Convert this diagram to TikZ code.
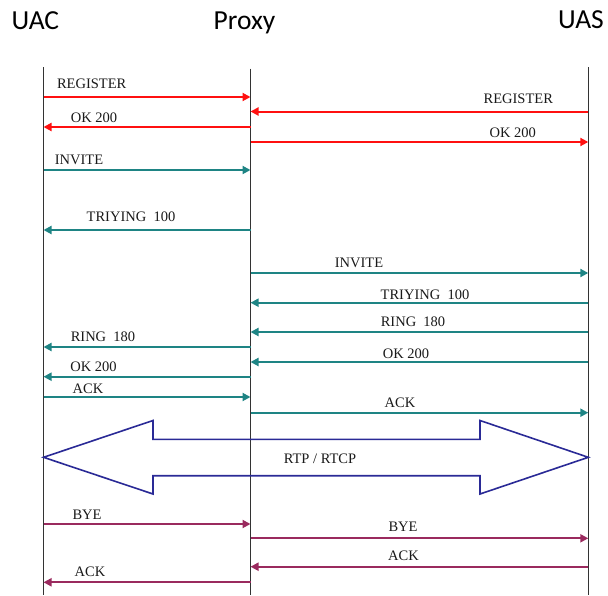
\documentclass[tikz,border=0pt]{standalone}
\usepackage{fontspec}
\setmainfont{Liberation Serif}
\newfontfamily\headfont{Carlito}
\usetikzlibrary{arrows.meta}

\definecolor{sipred}{HTML}{FF1010}
\definecolor{sipteal}{HTML}{1E8484}
\definecolor{sippurple}{HTML}{9A2A5E}
\definecolor{sipnavy}{HTML}{2A2A96}
\definecolor{lifegray}{HTML}{333333}
\definecolor{labelgray}{HTML}{1A1A1A}

\tikzset{
  head/.style={font=\headfont\fontsize{27.5}{30}\selectfont, anchor=base west, inner sep=0pt},
  lbl/.style={font=\fontsize{14.5}{16}\selectfont, text=labelgray, anchor=base, inner sep=0pt},
  lifeline/.style={draw=lifegray, line width=1.5pt},
  msg/.style={line width=2pt, -{Triangle[length=8pt,width=8pt]}},
  msgred/.style={msg, draw=sipred, color=sipred},
  msgteal/.style={msg, draw=sipteal, color=sipteal},
  msgpurple/.style={msg, draw=sippurple, color=sippurple},
  media/.style={draw=sipnavy, line width=1.6pt, line join=miter}
}

\begin{document}
\begin{tikzpicture}[x=1pt, y=-1pt]
\useasboundingbox (0,0) rectangle (608,595);

% x positions of the three lifelines
\def\xa{43.5}
\def\xp{250.5}
\def\xs{588.3}

% participants
\node[head] (uac)   at (11.5,29.3)  {UAC};
\node[head] (proxy) at (213.5,29.5) {Proxy};
\node[head, anchor=base east] (uas) at (604,28.6) {UAS};

% lifelines
\coordinate (uacT) at (\xa,67);   \coordinate (uacB) at (\xa,595);
\coordinate (prxT) at (\xp,68.5); \coordinate (prxB) at (\xp,595);
\coordinate (uasT) at (\xs,67);   \coordinate (uasB) at (\xs,595);
\draw[lifeline] (uacT) -- (uacB);
\draw[lifeline] (prxT) -- (prxB);
\draw[lifeline] (uasT) -- (uasB);

% messages: name / from x / to x / y / style
\foreach \n/\f/\t/\y/\s in {
   1/\xa/\xp/97/msgred,
   2/\xs/\xp/111.5/msgred,
   3/\xp/\xa/127/msgred,
   4/\xp/\xs/142/msgred,
   5/\xa/\xp/170/msgteal,
   6/\xp/\xa/230/msgteal,
   7/\xp/\xs/273/msgteal,
   8/\xs/\xp/302.7/msgteal,
   9/\xs/\xp/332/msgteal,
  10/\xp/\xa/347/msgteal,
  11/\xs/\xp/362/msgteal,
  12/\xp/\xa/376.7/msgteal,
  13/\xa/\xp/397/msgteal,
  14/\xp/\xs/412.7/msgteal,
  16/\xa/\xp/524/msgpurple,
  17/\xp/\xs/538.3/msgpurple,
  18/\xs/\xp/566.7/msgpurple,
  19/\xp/\xa/582.3/msgpurple}{
  \coordinate (m\n s) at (\f,\y);
  \coordinate (m\n e) at (\t,\y);
  \draw[\s] (m\n s) -- (m\n e);
}

% message labels
\node[lbl] (l1)  at (91.7,88.3)  {REGISTER};
\node[lbl] (l2)  at (518.3,103.3) {REGISTER};
\node[lbl] (l3)  at (94,122)     {OK 200};
\node[lbl] (l4)  at (512.7,137.3) {OK 200};
\node[lbl] (l5)  at (79,164)     {INVITE};
\node[lbl] (l6)  at (131,221)    {TRIYING\ \ 100};
\node[lbl] (l7)  at (359,267)    {INVITE};
\node[lbl] (l8)  at (425,299)    {TRIYING\ \ 100};
\node[lbl] (l9)  at (413,326)    {RING\ \ 180};
\node[lbl] (l10) at (103,341)    {RING\ \ 180};
\node[lbl] (l11) at (406,358.7)  {OK 200};
\node[lbl] (l12) at (93.5,371.7) {OK 200};
\node[lbl] (l13) at (88,393)     {ACK};
\node[lbl] (l14) at (400,407.7)  {ACK};
\node[lbl] (l16) at (87,519.3)   {BYE};
\node[lbl] (l17) at (403,531.7)  {BYE};
\node[lbl] (l18) at (403.5,560)  {ACK};
\node[lbl] (l19) at (90,576)     {ACK};

% media stream: double-headed block arrow between UAC and UAS
\coordinate (rtpL) at (\xa,457.3);
\coordinate (rtpR) at (\xs,457.3);
\draw[media] (rtpL) -- (153,420.5) -- (153,439.3) -- (480,439.3) -- (480,420.5)
  -- (rtpR) -- (480,494) -- (480,475.7) -- (153,475.7) -- (153,494) -- cycle;
\node[lbl] (rtp) at (320,463.7) {RTP / RTCP};
\end{tikzpicture}
\end{document}
